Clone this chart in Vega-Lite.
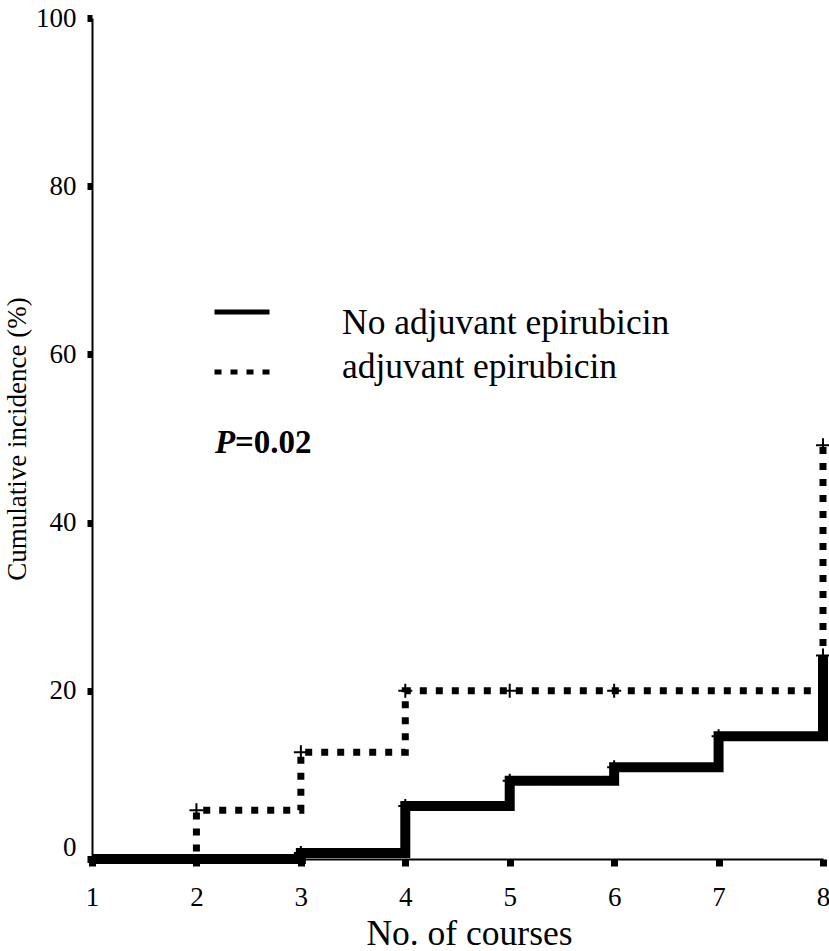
{
  "$schema": "https://vega.github.io/schema/vega-lite/v6.json",
  "width": 731,
  "height": 841,
  "autosize": "none",
  "padding": {"left": 92, "top": 18, "right": 6, "bottom": 92},
  "background": "white",
  "config": {
    "view": {"stroke": null},
    "font": "Liberation Serif",
    "axis": {
      "labelFont": "Liberation Serif",
      "titleFont": "Liberation Serif",
      "labelColor": "black",
      "titleColor": "black",
      "titleFontWeight": "normal",
      "domainColor": "black",
      "domainWidth": 2,
      "tickColor": "black",
      "grid": false
    }
  },
  "datasets": {
    "curves": [
      {"course": 1, "pct": 0, "group": "No adjuvant epirubicin"},
      {"course": 3, "pct": 0.7, "group": "No adjuvant epirubicin"},
      {"course": 4, "pct": 6.3, "group": "No adjuvant epirubicin"},
      {"course": 5, "pct": 9.3, "group": "No adjuvant epirubicin"},
      {"course": 6, "pct": 10.9, "group": "No adjuvant epirubicin"},
      {"course": 7, "pct": 14.6, "group": "No adjuvant epirubicin"},
      {"course": 8, "pct": 24.2, "group": "No adjuvant epirubicin"},
      {"course": 1, "pct": 0, "group": "adjuvant epirubicin"},
      {"course": 2, "pct": 5.8, "group": "adjuvant epirubicin"},
      {"course": 3, "pct": 12.7, "group": "adjuvant epirubicin"},
      {"course": 4, "pct": 20, "group": "adjuvant epirubicin"},
      {"course": 8, "pct": 49.2, "group": "adjuvant epirubicin"}
    ],
    "censor": [
      {"course": 3, "pct": 0.7},
      {"course": 4, "pct": 6.3},
      {"course": 5, "pct": 9.3},
      {"course": 6, "pct": 10.9},
      {"course": 7, "pct": 14.6},
      {"course": 8, "pct": 24.2},
      {"course": 2, "pct": 5.8},
      {"course": 3, "pct": 12.7},
      {"course": 4, "pct": 20},
      {"course": 5, "pct": 20},
      {"course": 6, "pct": 20},
      {"course": 8, "pct": 49.2}
    ]
  },
  "layer": [
    {
      "data": {"name": "curves"},
      "transform": [{"filter": "datum.group === 'adjuvant epirubicin'"}],
      "mark": {"type": "line", "interpolate": "step-after", "color": "black", "strokeCap": "butt", "strokeWidth": 7},
      "encoding": {
        "x": {
          "field": "course", "type": "quantitative",
          "scale": {"domain": [1, 8], "nice": false, "zero": false},
          "axis": {
            "values": [1, 2, 3, 4, 5, 6, 7, 8], "format": "d",
            "title": "No. of courses", "titleFontSize": 35.5, "titleX": 377,
            "labelFontSize": 27, "tickSize": 7, "tickWidth": 7,
            "labelPadding": 18, "titlePadding": 6, "labelFlush": false
          }
        },
        "y": {
          "field": "pct", "type": "quantitative",
          "scale": {"domain": [0, 100], "nice": false},
          "axis": {
            "values": [0, 20, 40, 60, 80, 100], "format": "d",
            "title": "Cumulative incidence (%)", "titleFontSize": 27,
            "labelFontSize": 27, "tickSize": 5, "tickWidth": 7,
            "labelPadding": 11, "titlePadding": 4, "labelFlush": false,
            "labelOffset": {"condition": {"test": "datum.value === 0", "value": -12}, "value": 0}
          }
        },
        "strokeDash": {
          "field": "group", "type": "nominal",
          "scale": {"domain": ["No adjuvant epirubicin", "adjuvant epirubicin"], "range": [[1, 0], [7, 9]]},
          "legend": {
            "orient": "none", "legendX": 120, "legendY": 264, "title": null,
            "symbolType": "stroke", "symbolSize": 3025, "symbolStrokeColor": "black",
            "symbolStrokeWidth": 5,
            "labelFont": "Liberation Serif", "labelFontSize": 35.5, "labelColor": "black",
            "labelOffset": 70, "rowPadding": -2, "padding": 0, "labelLimit": 700,
            "encode": {
              "symbols": {"update": {
                "strokeDash": [
                  {"test": "datum.value === 'adjuvant epirubicin'", "value": [4, 5]},
                  {"value": [1, 0]}
                ],
                "strokeWidth": {"value": 5}
              }},
              "labels": {"update": {
                "dy": {"signal": "datum.value === 'adjuvant epirubicin' ? -5 : 11"}
              }}
            }
          }
        }
      }
    },
    {
      "data": {"name": "curves"},
      "transform": [{"filter": "datum.group === 'No adjuvant epirubicin'"}],
      "mark": {"type": "line", "interpolate": "step-after", "color": "black", "strokeCap": "butt", "strokeWidth": 10},
      "encoding": {
        "x": {"field": "course", "type": "quantitative"},
        "y": {"field": "pct", "type": "quantitative"},
        "strokeDash": {"field": "group", "type": "nominal"}
      }
    },
    {
      "data": {"name": "censor"},
      "mark": {"type": "point", "shape": "M-1,0L1,0M0,-1L0,1", "size": 196, "filled": false, "color": "black", "strokeWidth": 2, "opacity": 1},
      "encoding": {
        "x": {"field": "course", "type": "quantitative"},
        "y": {"field": "pct", "type": "quantitative"}
      }
    },
    {
      "data": {"values": [{"x": 2.178, "y": 48.3, "t": "P"}]},
      "mark": {"type": "text", "align": "left", "baseline": "alphabetic", "fontSize": 33, "fontWeight": "bold", "fontStyle": "italic", "font": "Liberation Serif", "color": "black"},
      "encoding": {
        "x": {"field": "x", "type": "quantitative"},
        "y": {"field": "y", "type": "quantitative"},
        "text": {"field": "t"}
      }
    },
    {
      "data": {"values": [{"x": 2.369, "y": 48.3, "t": "=0.02"}]},
      "mark": {"type": "text", "align": "left", "baseline": "alphabetic", "fontSize": 33, "fontWeight": "bold", "font": "Liberation Serif", "color": "black"},
      "encoding": {
        "x": {"field": "x", "type": "quantitative"},
        "y": {"field": "y", "type": "quantitative"},
        "text": {"field": "t"}
      }
    }
  ]
}
